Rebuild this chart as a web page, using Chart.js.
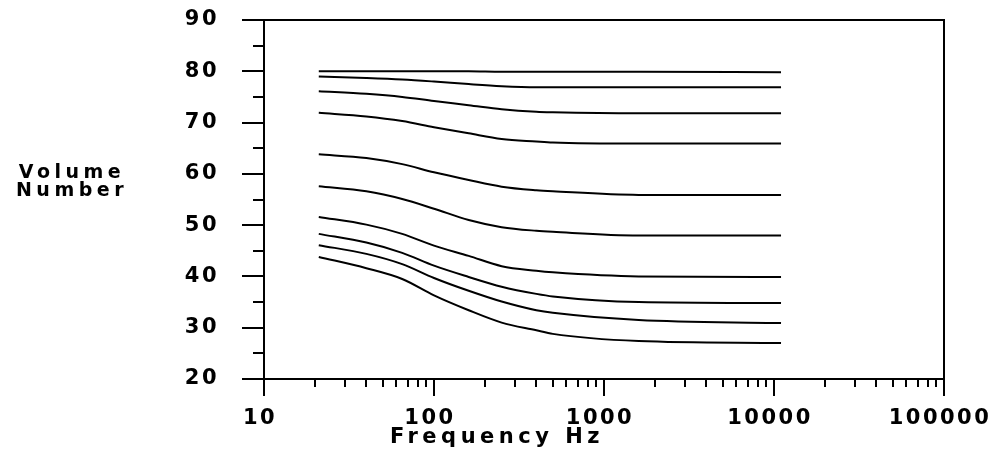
<!DOCTYPE html>
<html>
<head>
<meta charset="utf-8">
<script src="https://cdn.jsdelivr.net/npm/chart.js@4.4.1/dist/chart.umd.min.js"></script>
<style>
  html, body { margin: 0; padding: 0; background: #fff; }
  #wrap { width: 997px; height: 465px; position: relative; }
</style>
</head>
<body>
<div id="wrap"><canvas id="myChart"></canvas></div>
<script>
// frequency points (Hz) the curves were read at
const freqHz = [21, 40, 65, 100, 160, 250, 400, 500, 1600, 11000];

// one curve per volume setting, top to bottom
const curve1 = [80.0, 80.0, 80.0, 80.0, 80.0, 79.9, 79.9, 79.9, 79.9, 79.8];
const curve2 = [79.0, 78.7, 78.4, 78.0, 77.5, 77.1, 76.9, 76.9, 76.9, 76.9];
const curve3 = [76.1, 75.6, 75.0, 74.2, 73.4, 72.6, 72.1, 72.0, 71.8, 71.8];
const curve4 = [71.9, 71.2, 70.3, 69.1, 67.9, 66.8, 66.3, 66.1, 65.9, 65.9];
const curve5 = [63.8, 63.1, 61.9, 60.3, 58.8, 57.5, 56.8, 56.6, 55.9, 55.9];
const curve6 = [57.6, 56.6, 55.1, 53.2, 51.0, 49.6, 48.9, 48.7, 48.0, 48.0];
const curve7 = [51.6, 50.1, 48.3, 46.0, 44.0, 42.0, 41.1, 40.8, 40.0, 39.9];
const curve8 = [48.3, 46.6, 44.6, 42.1, 39.9, 38.0, 36.6, 36.1, 35.0, 34.8];
const curve9 = [46.1, 44.4, 42.4, 39.7, 37.2, 35.1, 33.4, 32.9, 31.5, 30.9];
const curve10 = [43.8, 41.6, 39.5, 36.3, 33.4, 31.0, 29.5, 28.8, 27.4, 27.0];

const xTicks = [10, 100, 1000, 10000, 100000];
const yMin = 20;
const yMax = 90;

const curves = [curve1, curve2, curve3, curve4, curve5, curve6, curve7, curve8, curve9, curve10];

Chart.defaults.font.family = "'DejaVu Sans', sans-serif";
Chart.defaults.color = "#000";

const grapharea = document.getElementById("myChart");

const data = {
  datasets: curves.map((c, i) => ({
    label: "Curve " + (i + 1),
    data: c.map((v, j) => ({ x: freqHz[j], y: v })),
    borderColor: "#000",
    borderWidth: 2,
    pointRadius: 0,
    fill: false,
    cubicInterpolationMode: "monotone",
  })),
};

// frame, major/minor tick marks and the two titles
const axisMarks = {
  id: "axisMarks",
  beforeDraw(chart) {
    chart.ctx.letterSpacing = "2.5px";
  },
  afterDraw(chart) {
    const { ctx, chartArea: a, scales } = chart;
    ctx.save();
    ctx.letterSpacing = "0px";
    ctx.strokeStyle = "#000";
    ctx.lineWidth = 2;
    ctx.strokeRect(a.left, a.top, a.right - a.left, a.bottom - a.top);

    ctx.beginPath();
    for (let v = yMin; v <= yMax; v += 5) {
      const py = Math.round(scales.y.getPixelForValue(v));
      ctx.moveTo(a.left - (v % 10 === 0 ? 22 : 11), py);
      ctx.lineTo(a.left, py);
    }
    xTicks.forEach((d) => {
      for (let m = 1; m <= 9; m++) {
        const v = d * m;
        if (v > xTicks[xTicks.length - 1]) break;
        const px = Math.round(scales.x.getPixelForValue(v));
        ctx.moveTo(px, a.bottom);
        ctx.lineTo(px, a.bottom + (m === 1 ? 17 : 8));
      }
    });
    ctx.stroke();

    ctx.fillStyle = "#000";
    ctx.textBaseline = "alphabetic";
    ctx.textAlign = "center";
    ctx.font = "bold 19px 'DejaVu Sans'";
    ctx.letterSpacing = "4.5px";
    ctx.fillText("Volume", 72, 178);
    ctx.fillText("Number", 72, 196);

    ctx.textAlign = "left";
    ctx.font = "bold 21px 'DejaVu Sans'";
    ctx.letterSpacing = "4.5px";
    ctx.fillText("Frequency Hz", 390, 443);
    ctx.restore();
    ctx.letterSpacing = "0px";
  },
};

const config = {
  type: "line",
  data: data,
  options: {
    responsive: true,
    maintainAspectRatio: false,
    animation: false,
    layout: { padding: { left: 0, right: 53, top: 20, bottom: 0 } },
    plugins: { legend: { display: false }, tooltip: { enabled: false } },
    scales: {
      x: {
        type: "logarithmic",
        min: 10,
        max: 100000,
        grid: { display: false, drawTicks: false },
        border: { display: false },
        afterBuildTicks: (s) => {
          s.ticks = xTicks.map((v) => ({ value: v }));
        },
        afterFit: (s) => {
          s.height = 86;
          s.paddingLeft = 0;
          s.paddingRight = 0;
        },
        ticks: {
          autoSkip: false,
          maxRotation: 0,
          padding: 27,
          labelOffset: -4,
          font: { size: 21, weight: "bold" },
          callback: (v) => String(v),
        },
      },
      y: {
        min: yMin,
        max: yMax,
        grid: { display: false, drawTicks: false },
        border: { display: false },
        afterFit: (s) => {
          s.width = 264;
          s.paddingTop = 0;
          s.paddingBottom = 0;
        },
        ticks: {
          stepSize: 10,
          padding: 45,
          font: { size: 21, weight: "bold" },
        },
      },
    },
  },
  plugins: [axisMarks],
};

const myChart = new Chart(grapharea, config);
</script>
</body>
</html>
